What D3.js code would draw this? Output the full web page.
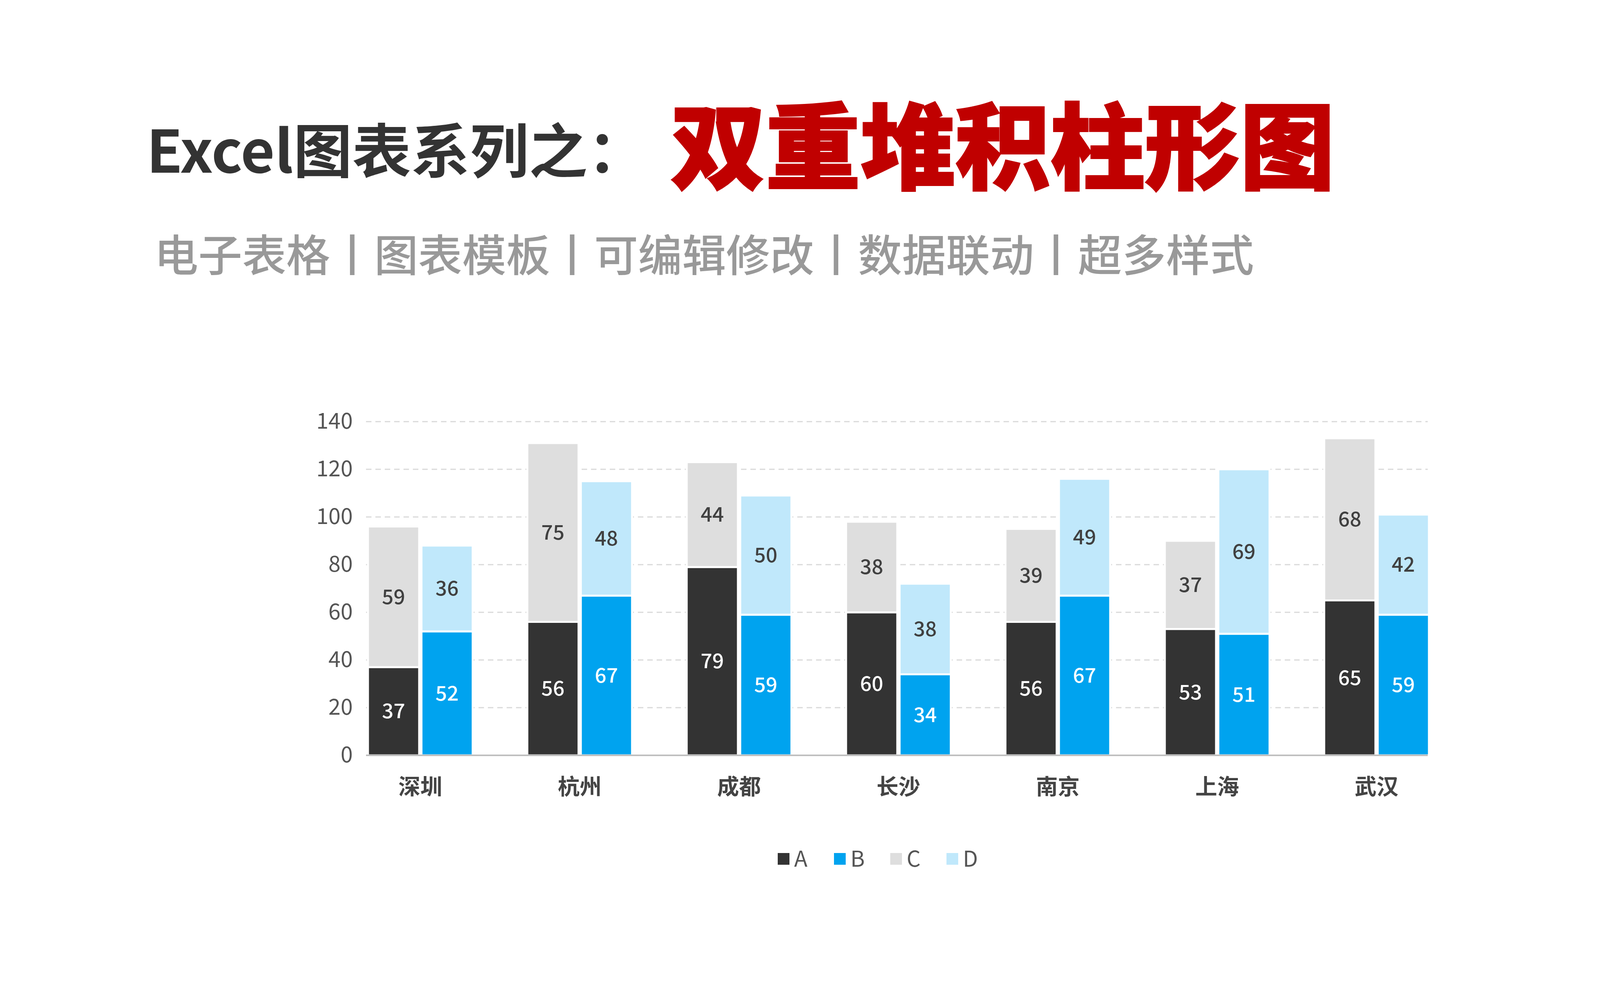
<!DOCTYPE html>
<html><head><meta charset="utf-8">
<script src="https://cdn.jsdelivr.net/npm/d3@7/dist/d3.min.js"></script>
<style>body{margin:0;background:#fff}svg{display:block}</style></head>
<body><svg id="c" width="4500" height="2531"></svg>
<script>
const categories = ["深圳","杭州","成都","长沙","南京","上海","武汉"];
const seriesA = [37,56,79,60,56,53,65];
const seriesB = [52,67,59,34,67,51,59];
const seriesC = [59,75,44,38,39,37,68];
const seriesD = [36,48,50,38,49,69,42];
const yTicks = [0,20,40,60,80,100,120,140];
const legendNames = ["A","B","C","D"];
const colors = {A:"#333333",B:"#00a3ef",C:"#dedede",D:"#c0e8fb"};

const svg = d3.select("#c");
const font = "'Noto Sans CJK SC','Noto Sans',sans-serif";

// Title
svg.append("text").attr("x",375).attr("y",442).attr("font-family",font).attr("font-weight",700)
  .attr("font-size",150).attr("fill","#333").attr("textLength",1280).attr("lengthAdjust","spacingAndGlyphs")
  .text("Excel图表系列之：");
svg.append("text").attr("x",1717).attr("y",465).attr("font-family",font).attr("font-weight",900)
  .attr("font-size",240).attr("fill","#c00000").attr("stroke","#c00000").attr("stroke-width",4)
  .attr("textLength",1700).attr("lengthAdjust","spacingAndGlyphs").text("双重堆积柱形图");
svg.append("text").attr("x",395).attr("y",695).attr("font-family",font).attr("font-weight",500)
  .attr("font-size",112).attr("fill","#999").attr("textLength",2815).attr("lengthAdjust","spacingAndGlyphs")
  .text("电子表格丨图表模板丨可编辑修改丨数据联动丨超多样式");

const y = d3.scaleLinear().domain([0,140]).range([1933,1079]);
const x = d3.scaleBand().domain(categories).range([872,3728]).paddingInner(0).paddingOuter(0);
const barW = 131, gap = 6;
const gx0 = 937, gx1 = 3655;

// gridlines
svg.append("g").selectAll("line").data(yTicks.slice(1)).join("line")
  .attr("x1",gx0).attr("x2",gx1).attr("y1",d=>y(d)).attr("y2",d=>y(d))
  .attr("stroke","#d9d9d9").attr("stroke-width",3).attr("stroke-dasharray","14,10");

// y axis labels
const ya = svg.append("g").attr("transform","translate(903,0)")
  .call(d3.axisLeft(y).tickValues(yTicks).tickSize(0).tickPadding(0));
ya.select(".domain").remove();
ya.selectAll("text").attr("font-family",font).attr("font-size",56).attr("fill","#555");

const groups = categories.map((c,i)=>({c,A:seriesA[i],B:seriesB[i],C:seriesC[i],D:seriesD[i]}));
const segs = [];
groups.forEach(g=>{
  const x0 = x(g.c) + (x.bandwidth()-2*barW-gap)/2;
  segs.push({k:"A",x:x0,y0:0,y1:g.A,v:g.A});
  segs.push({k:"C",x:x0,y0:g.A,y1:g.A+g.C,v:g.C});
  segs.push({k:"B",x:x0+barW+gap,y0:0,y1:g.B,v:g.B});
  segs.push({k:"D",x:x0+barW+gap,y0:g.B,y1:g.B+g.D,v:g.D});
});
svg.append("g").selectAll("rect").data(segs).join("rect")
  .attr("x",d=>d.x).attr("width",barW).attr("y",d=>y(d.y1)).attr("height",d=>y(d.y0)-y(d.y1))
  .attr("fill",d=>colors[d.k]).attr("stroke","#fff").attr("stroke-width",5);
svg.append("g").selectAll("text").data(segs).join("text")
  .attr("x",d=>d.x+barW/2).attr("y",d=>y((d.y0+d.y1)/2)).attr("dy","0.35em")
  .attr("text-anchor","middle").attr("font-family",font).attr("font-weight",500).attr("font-size",52)
  .attr("fill",d=>(d.k==="A"||d.k==="B")?"#fff":"#404040").text(d=>d.v);

// x axis line
svg.append("line").attr("x1",gx0).attr("x2",gx1).attr("y1",y(0)).attr("y2",y(0)).attr("stroke","#bfbfbf").attr("stroke-width",4);
const xa = svg.append("g").attr("transform",`translate(0,${y(0)})`).call(d3.axisBottom(x).tickSize(0).tickPadding(60));
xa.select(".domain").remove();
xa.selectAll("text").attr("font-family",font).attr("font-weight",700).attr("font-size",56).attr("fill","#444");

// legend
const lx = [1991,2135,2279,2423];
const lg = svg.append("g").selectAll("g").data(legendNames).join("g").attr("transform",(d,i)=>`translate(${lx[i]},2198)`);
lg.append("rect").attr("x",0).attr("y",-15).attr("width",30).attr("height",30).attr("fill",d=>colors[d]);
lg.append("text").attr("x",42).attr("dy","0.36em").attr("font-family",font).attr("font-size",56).attr("fill","#555").text(d=>d);
</script></body></html>
